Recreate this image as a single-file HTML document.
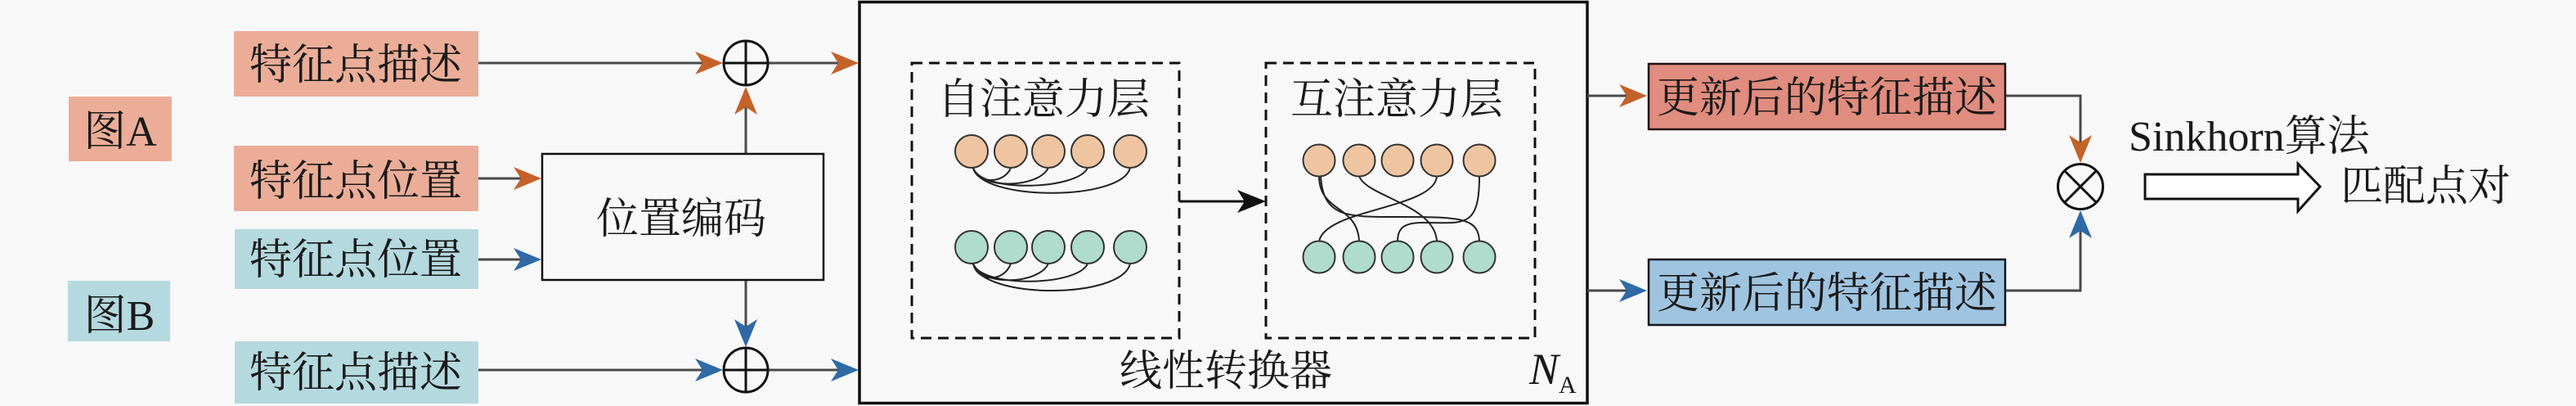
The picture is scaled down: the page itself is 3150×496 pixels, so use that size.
<!DOCTYPE html>
<html>
<head>
<meta charset="utf-8">
<style>
  html,body{margin:0;padding:0;background:#f8f8f8;}
  svg{display:block;}
  text{font-family:"Liberation Serif","Noto Serif CJK SC",serif;fill:#1a1a1a;}
</style>
</head>
<body>
<svg width="3150" height="496" viewBox="0 0 3150 496" xmlns="http://www.w3.org/2000/svg">
  <rect x="0" y="0" width="3150" height="496" fill="#f8f8f8"/>

  <!-- Left input boxes -->
  <rect x="286" y="38" width="299" height="80" fill="#ebad98"/>
  <text x="435" y="97" font-size="52" text-anchor="middle">特征点描述</text>

  <rect x="84" y="118" width="126" height="79" fill="#ebad98"/>
  <text x="147" y="178" font-size="52" text-anchor="middle">图A</text>

  <rect x="286" y="178" width="299" height="80" fill="#ebad98"/>
  <text x="435" y="239" font-size="52" text-anchor="middle">特征点位置</text>

  <rect x="287" y="280" width="298" height="73" fill="#b4d9df"/>
  <text x="435" y="335" font-size="52" text-anchor="middle">特征点位置</text>

  <rect x="83" y="343" width="125" height="74" fill="#b4d9df"/>
  <text x="146" y="403" font-size="52" text-anchor="middle">图B</text>

  <rect x="287" y="417" width="298" height="76" fill="#b4d9df"/>
  <text x="435" y="473" font-size="52" text-anchor="middle">特征点描述</text>

  <!-- connectors left -->
  <g stroke="#4a4a4a" stroke-width="3" fill="none">
    <line x1="585" y1="77" x2="862" y2="77"/>
    <line x1="939" y1="77" x2="1028" y2="77"/>
    <line x1="912" y1="188" x2="912" y2="130"/>
    <line x1="585" y1="218" x2="642" y2="218"/>
    <line x1="585" y1="317" x2="642" y2="317"/>
    <line x1="912" y1="342" x2="912" y2="404"/>
    <line x1="585" y1="452" x2="862" y2="452"/>
    <line x1="939" y1="452" x2="1028" y2="452"/>
  </g>

  <!-- plus circles -->
  <g stroke="#111" stroke-width="3" fill="none">
    <circle cx="912" cy="77" r="27"/>
    <line x1="885" y1="77" x2="939" y2="77"/>
    <line x1="912" y1="50" x2="912" y2="104"/>
    <circle cx="912" cy="452" r="27"/>
    <line x1="885" y1="452" x2="939" y2="452"/>
    <line x1="912" y1="425" x2="912" y2="479"/>
  </g>

  <!-- position encoding box -->
  <rect x="663" y="188" width="344" height="154" fill="none" stroke="#111" stroke-width="2.5"/>
  <text x="833" y="285" font-size="52" text-anchor="middle">位置编码</text>

  <!-- arrowheads left -->
  <g fill="#c4622a">
    <path transform="translate(884,77)" d="M0,0 L-34,-14 L-25,0 L-34,14 Z"/>
    <path transform="translate(1050,77)" d="M0,0 L-34,-14 L-25,0 L-34,14 Z"/>
    <path transform="translate(912,106) rotate(-90)" d="M0,0 L-34,-14 L-25,0 L-34,14 Z"/>
    <path transform="translate(662,218)" d="M0,0 L-34,-14 L-25,0 L-34,14 Z"/>
  </g>
  <g fill="#2f6aa6">
    <path transform="translate(662,317)" d="M0,0 L-34,-14 L-25,0 L-34,14 Z"/>
    <path transform="translate(912,424) rotate(90)" d="M0,0 L-34,-14 L-25,0 L-34,14 Z"/>
    <path transform="translate(884,452)" d="M0,0 L-34,-14 L-25,0 L-34,14 Z"/>
    <path transform="translate(1050,452)" d="M0,0 L-34,-14 L-25,0 L-34,14 Z"/>
  </g>

  <!-- big transformer box -->
  <rect x="1051" y="2.5" width="890" height="490" fill="none" stroke="#111" stroke-width="3.5"/>

  <!-- dashed boxes -->
  <g fill="none" stroke="#111" stroke-width="3" stroke-dasharray="13 8">
    <rect x="1115" y="77" width="327" height="336"/>
    <rect x="1548" y="77" width="329" height="336"/>
  </g>
  <text x="1276" y="139" font-size="52" text-anchor="middle">自注意力层</text>
  <text x="1708" y="139" font-size="52" text-anchor="middle">互注意力层</text>

  <!-- arrow between dashed boxes -->
  <line x1="1442" y1="246" x2="1522" y2="246" stroke="#111" stroke-width="3"/>
  <path transform="translate(1548,246)" d="M0,0 L-35,-14 L-26,0 L-35,14 Z" fill="#111"/>

  <!-- self attention curves -->
  <g fill="none" stroke="#222" stroke-width="2">
    <path d="M1190,205 C1195,225 1228,225 1236,205"/>
    <path d="M1190,205 C1198,232 1270,230 1282,205"/>
    <path d="M1190,205 C1200,236 1318,232 1330,205"/>
    <path d="M1190,205 C1200,246 1372,246 1382,205"/>
    <path d="M1190,322 C1195,345 1228,345 1236,322"/>
    <path d="M1190,322 C1198,350 1270,348 1282,322"/>
    <path d="M1190,322 C1200,352 1318,350 1330,322"/>
    <path d="M1190,322 C1200,366 1372,366 1382,322"/>
  </g>
  <!-- self attention nodes -->
  <g stroke="#333" stroke-width="2">
    <g fill="#efc5a1">
      <circle cx="1188" cy="185" r="20"/>
      <circle cx="1236" cy="185" r="20"/>
      <circle cx="1282" cy="185" r="20"/>
      <circle cx="1330" cy="185" r="20"/>
      <circle cx="1382" cy="185" r="20"/>
    </g>
    <g fill="#afdccc">
      <circle cx="1188" cy="302" r="20"/>
      <circle cx="1236" cy="302" r="20"/>
      <circle cx="1282" cy="302" r="20"/>
      <circle cx="1330" cy="302" r="20"/>
      <circle cx="1382" cy="302" r="20"/>
    </g>
  </g>

  <!-- cross attention curves -->
  <g fill="none" stroke="#222" stroke-width="2">
    <path d="M1613,215 C1613,260 1660,250 1662,295"/>
    <path d="M1615,215 C1618,268 1650,265 1720,265 C1790,265 1808,268 1809,295"/>
    <path d="M1662,215 C1670,240 1755,250 1757,295"/>
    <path d="M1757,215 C1755,255 1620,255 1613,295"/>
    <path d="M1809,215 C1809,280 1790,272 1740,272 C1715,272 1709,280 1709,295"/>
  </g>
  <g stroke="#333" stroke-width="2">
    <g fill="#efc5a1">
      <circle cx="1613" cy="196" r="19.5"/>
      <circle cx="1662" cy="196" r="19.5"/>
      <circle cx="1709" cy="196" r="19.5"/>
      <circle cx="1757" cy="196" r="19.5"/>
      <circle cx="1809" cy="196" r="19.5"/>
    </g>
    <g fill="#afdccc">
      <circle cx="1613" cy="314" r="19.5"/>
      <circle cx="1662" cy="314" r="19.5"/>
      <circle cx="1709" cy="314" r="19.5"/>
      <circle cx="1757" cy="314" r="19.5"/>
      <circle cx="1809" cy="314" r="19.5"/>
    </g>
  </g>

  <text x="1499" y="471" font-size="52" text-anchor="middle">线性转换器</text>
  <text x="1870" y="469" font-size="54" font-style="italic">N</text>
  <text x="1906" y="480" font-size="30">A</text>

  <!-- right side -->
  <g stroke="#4a4a4a" stroke-width="3" fill="none">
    <line x1="1941" y1="117" x2="1992" y2="117"/>
    <line x1="1941" y1="355" x2="1992" y2="355"/>
    <path d="M2452,117 H2544 V178"/>
    <path d="M2452,355 H2544 V278"/>
  </g>
  <g fill="#c4622a">
    <path transform="translate(2014,117)" d="M0,0 L-34,-14 L-25,0 L-34,14 Z"/>
    <path transform="translate(2544,199) rotate(90)" d="M0,0 L-34,-14 L-25,0 L-34,14 Z"/>
  </g>
  <g fill="#2f6aa6">
    <path transform="translate(2014,355)" d="M0,0 L-34,-14 L-25,0 L-34,14 Z"/>
    <path transform="translate(2544,257) rotate(-90)" d="M0,0 L-34,-14 L-25,0 L-34,14 Z"/>
  </g>

  <rect x="2016" y="78" width="436" height="80" fill="#e08c7e" stroke="#221010" stroke-width="2.5"/>
  <text x="2234" y="137" font-size="52" text-anchor="middle">更新后的特征描述</text>

  <rect x="2016" y="317" width="436" height="80" fill="#9fc4e0" stroke="#101820" stroke-width="2.5"/>
  <text x="2234" y="376" font-size="52" text-anchor="middle">更新后的特征描述</text>

  <!-- otimes -->
  <g stroke="#111" stroke-width="3" fill="none">
    <circle cx="2544" cy="228" r="27.5"/>
    <line x1="2524.5" y1="208.5" x2="2563.5" y2="247.5"/>
    <line x1="2563.5" y1="208.5" x2="2524.5" y2="247.5"/>
  </g>

  <!-- hollow arrow -->
  <polygon points="2623,213 2810,213 2810,200 2837,228 2810,258 2810,243 2623,243" fill="#ffffff" stroke="#111" stroke-width="3" stroke-linejoin="miter"/>

  <text x="2603" y="184" font-size="52">Sinkhorn算法</text>
  <text x="2862" y="245" font-size="52">匹配点对</text>
</svg>
</body>
</html>
